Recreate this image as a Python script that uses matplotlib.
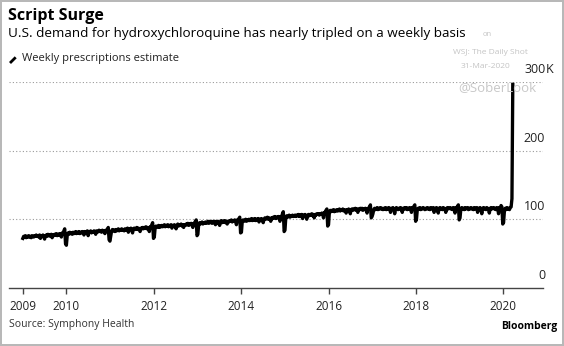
import matplotlib
matplotlib.use("Agg")
import matplotlib.pyplot as plt
import matplotlib.dates as mdates
from matplotlib.lines import Line2D
import pandas as pd

plt.rcParams['font.family'] = ['Open Sans', 'DejaVu Sans']

# weekly hydroxychloroquine prescriptions (thousands), weeks ending Friday
rx_2009 = [72, 75, 74, 76, 73, 75, 74, 76, 74, 75, 73, 76, 75,
           74, 76, 75, 77, 75, 76, 74, 77, 72, 76, 75, 77, 74,
           71, 76, 77, 75, 78, 76, 77, 75, 78, 73, 77, 76, 78,
           77, 79, 76, 78, 77, 79, 78, 74, 80, 78, 83, 86, 64]
rx_2010 = [62, 76, 80, 78, 81, 79, 80, 78, 81, 79, 80, 82, 79,
           81, 80, 82, 79, 81, 80, 82, 81, 77, 82, 80, 81, 83,
           76, 82, 81, 83, 80, 82, 81, 83, 82, 78, 83, 81, 82,
           84, 82, 83, 81, 84, 82, 83, 79, 84, 82, 85, 88, 70, 68]
rx_2011 = [76, 83, 85, 83, 84, 82, 85, 83, 84, 86, 83, 85, 84,
           86, 84, 85, 83, 86, 84, 85, 87, 81, 86, 85, 87, 84,
           80, 86, 87, 85, 86, 88, 85, 87, 86, 82, 87, 86, 88,
           86, 88, 87, 89, 86, 88, 87, 82, 89, 88, 92, 95, 72]
rx_2012 = [74, 88, 90, 88, 89, 91, 88, 90, 89, 91, 89, 90, 92,
           89, 91, 90, 92, 89, 91, 90, 92, 87, 91, 90, 92, 89,
           86, 91, 93, 90, 92, 91, 93, 90, 92, 88, 92, 91, 93,
           92, 94, 91, 93, 92, 94, 93, 88, 94, 93, 97, 99, 76]
rx_2013 = [78, 93, 95, 93, 94, 96, 93, 95, 94, 96, 94, 95, 97,
           94, 96, 95, 97, 94, 96, 95, 97, 92, 96, 95, 97, 94,
           91, 96, 98, 95, 97, 96, 98, 95, 97, 93, 97, 96, 98,
           97, 99, 96, 98, 97, 99, 98, 92, 99, 98, 101, 103, 80]
rx_2014 = [81, 97, 99, 97, 98, 100, 97, 99, 98, 100, 98, 99, 101,
           98, 100, 99, 101, 98, 100, 99, 101, 96, 100, 99, 101, 98,
           95, 100, 102, 100, 101, 103, 100, 102, 101, 97, 102, 101, 103,
           102, 104, 101, 103, 102, 104, 103, 97, 104, 103, 108, 111, 82]
rx_2015 = [84, 103, 105, 103, 104, 106, 103, 105, 104, 106, 104, 105, 106,
           104, 106, 105, 107, 104, 106, 105, 107, 101, 106, 105, 107, 104,
           100, 106, 107, 105, 107, 106, 108, 105, 107, 102, 107, 106, 108,
           107, 108, 106, 108, 107, 109, 108, 102, 110, 109, 113, 115, 90]
rx_2016 = [92, 110, 113, 111, 113, 112, 114, 111, 113, 112, 114, 112, 113,
           115, 112, 114, 113, 115, 112, 114, 113, 109, 114, 113, 115, 112,
           108, 114, 115, 113, 115, 114, 116, 113, 115, 110, 115, 114, 116,
           114, 116, 113, 115, 114, 116, 115, 109, 116, 115, 118, 121, 102, 104]
rx_2017 = [108, 114, 116, 114, 115, 117, 114, 116, 115, 117, 115, 116, 114,
           116, 115, 117, 114, 116, 115, 117, 116, 110, 116, 115, 117, 114,
           108, 115, 117, 116, 114, 116, 115, 117, 116, 110, 116, 115, 117,
           115, 117, 114, 116, 115, 117, 116, 110, 117, 116, 119, 121, 97]
rx_2018 = [100, 114, 116, 115, 117, 114, 116, 115, 117, 116, 114, 116, 115,
           117, 115, 116, 114, 117, 115, 116, 117, 110, 116, 115, 117, 114,
           109, 116, 117, 115, 116, 114, 117, 116, 115, 110, 116, 117, 115,
           116, 117, 115, 116, 114, 117, 116, 109, 117, 116, 119, 121, 99]
rx_2019 = [102, 115, 117, 115, 116, 114, 117, 115, 116, 117, 114, 116, 115,
           117, 115, 116, 114, 117, 115, 116, 117, 110, 116, 115, 117, 114,
           108, 116, 117, 115, 116, 114, 117, 116, 115, 109, 116, 117, 115,
           116, 117, 115, 116, 114, 117, 116, 108, 117, 116, 120, 118, 93]
rx_2020 = [95, 112, 116, 114, 117, 115, 116, 114, 117, 118, 130, 297]

weekly_rx = (rx_2009 + rx_2010 + rx_2011 + rx_2012 + rx_2013 + rx_2014 +
             rx_2015 + rx_2016 + rx_2017 + rx_2018 + rx_2019 + rx_2020)
weeks = pd.date_range('2009-01-02', periods=len(weekly_rx), freq='W-FRI')

grid_values = [100, 200, 300]
ytick_values = [0, 100, 200, 300]
ytick_labels = ['0', '100', '200', '300']
xtick_years = [2009, 2010, 2012, 2014, 2016, 2018, 2020]

fig = plt.figure(figsize=(5.64, 3.46), dpi=100)
fig.patch.set_facecolor('white')
fig.patch.set_edgecolor('#b8b8b8')
fig.patch.set_linewidth(1.5)

ax = fig.add_axes([9.3 / 564, 1 - 287.7 / 346, (543.3 - 9.3) / 564, (287.7 - 82.3) / 346])
ax.plot(weeks, weekly_rx, color='black', lw=2.4, solid_joinstyle='round', clip_on=False, zorder=3)

ax.set_xlim(pd.Timestamp('2008-09-11'), pd.Timestamp('2020-11-30'))
ax.set_ylim(0, 300)

for v in grid_values:
    ax.axhline(v, color='#9a9a9a', lw=0.8, ls=(0, (1, 2)), zorder=1)

# right-hand value labels sit just above each gridline
for v, lab in zip(ytick_values, ytick_labels):
    ax.annotate(lab, xy=(1.0, v), xycoords=('axes fraction', 'data'),
                xytext=(2, 6), textcoords='offset pixels',
                ha='right', va='bottom', fontsize=9, color='#222222')
ax.annotate('K', xy=(1.0, 300), xycoords=('axes fraction', 'data'),
            xytext=(2, 6), textcoords='offset pixels',
            ha='left', va='bottom', fontsize=9, color='#222222')

for side in ['top', 'right', 'left']:
    ax.spines[side].set_visible(False)
ax.spines['bottom'].set_color('#444444')
ax.spines['bottom'].set_linewidth(1.0)
ax.set_yticks([])
ax.set_xticks([pd.Timestamp(f'{y}-01-01') for y in xtick_years])
ax.xaxis.set_major_formatter(mdates.DateFormatter('%Y'))
ax.tick_params(axis='x', length=4, width=1.0, color='#444444', labelsize=8.5,
               labelcolor='#222222', pad=5)

# header
fig.text(8 / 564, 1 - 16 / 346, 'Script Surge', fontsize=11.5, fontweight='bold',
         va='center', ha='left', color='black')
fig.text(8 / 564, 1 - 34 / 346, 'U.S. demand for hydroxychloroquine has nearly tripled on a weekly basis',
         fontsize=9.7, va='center', ha='left', color='black')
fig.add_artist(Line2D([10 / 564, 15.7 / 564], [1 - 63 / 346, 1 - 57.3 / 346],
                      color='black', lw=2.0, solid_capstyle='butt'))
fig.text(22 / 564, 1 - 58 / 346, 'Weekly prescriptions estimate', fontsize=8,
         va='center', ha='left', color='#222222')

# watermarks
fig.text(487 / 564, 1 - 35 / 346, 'on', fontsize=5.5, color='#c4c4c4', ha='center', va='center')
fig.text(490 / 564, 1 - 52 / 346, 'WSJ: The Daily Shot', fontsize=6, color='#c4c4c4', ha='center', va='center')
fig.text(486 / 564, 1 - 67 / 346, '31-Mar-2020', fontsize=6, color='#c4c4c4', ha='center', va='center')
fig.text(497 / 564, 1 - 88 / 346, '@SoberLook', fontsize=9.5, color='#c8c8c8', ha='center', va='center')

# footer
fig.text(9 / 564, 1 - 324 / 346, 'Source: Symphony Health', fontsize=7.5, va='center',
         ha='left', color='#333333')
fig.text(557 / 564, 1 - 327 / 346, 'Bloomberg', fontsize=7.5, fontweight='bold',
         va='center', ha='right', color='black')

fig.savefig('out.png', dpi=100)
